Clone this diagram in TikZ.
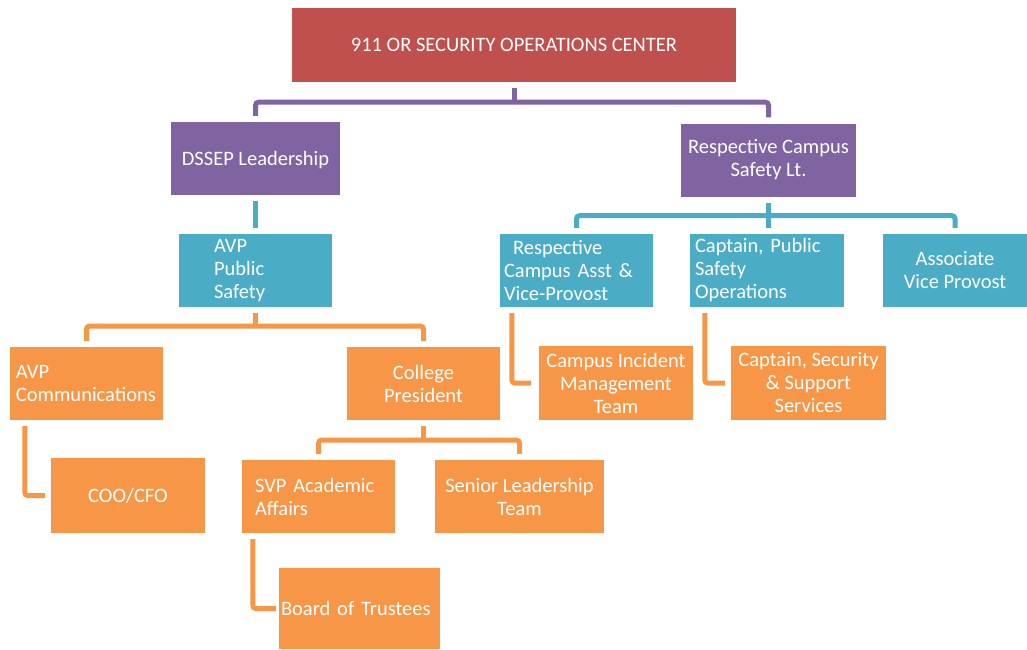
\documentclass[tikz,border=0pt]{standalone}
\usepackage{fontspec}
\setmainfont{Carlito}
\usepackage{tikz}
\usetikzlibrary{calc}
\definecolor{socred}{HTML}{C0504D}
\definecolor{leadpurple}{HTML}{8064A2}
\definecolor{safetyteal}{HTML}{4BACC6}
\definecolor{staffor}{HTML}{F79646}
\frenchspacing
\tikzset{
  box/.style={text=white, inner sep=0pt, minimum height=73pt, align=center,
    font=\fontsize{20.5}{23}\selectfont},
  redbox/.style={box, fill=socred},
  purplebox/.style={box, fill=leadpurple},
  tealbox/.style={box, fill=safetyteal},
  orangebox/.style={box, fill=staffor},
  link/.style={line width=5pt, shorten <=6pt, shorten >=6pt},
  purpleline/.style={link, draw=leadpurple},
  tealline/.style={link, draw=safetyteal},
  orangeline/.style={link, draw=staffor}
}
\begin{document}
\begin{tikzpicture}[x=1pt,y=-1pt]
\fill[white] (0,0) rectangle (1027,649);
\useasboundingbox (0,0) rectangle (1027,649);
% boxes
\node[redbox, minimum width=444pt, minimum height=74pt] (soc) at (514,45) {911 OR SECURITY OPERATIONS CENTER};
\node[purplebox, minimum width=169pt, text depth=-2pt] (dssep) at (255.5,158.5) {DSSEP Leadership};
\node[purplebox, minimum width=175pt] (campuslt) at (768.5,160) {Respective Campus\\Safety Lt.};
\node[tealbox, text width=83pt, inner xsep=35pt, align=left] (avpps) at (255.5,270.5) {AVP\\Public\\Safety};
\node[tealbox, text width=145pt, inner xsep=4pt, align=left] (asst) at (576.5,270.5) {\hspace*{9pt}Respective\\Campus Asst \&\\Vice-Provost};
\node[tealbox, text width=144pt, inner xsep=5pt, align=left] (captps) at (767,270.5) {Captain, Public\\Safety\\Operations};
\node[tealbox, minimum width=144pt] (assocvp) at (955,270.5) {Associate\\Vice Provost};
\node[orangebox, text width=141pt, inner xsep=6pt, align=left] (avpcom) at (86.5,383.5) {AVP\\Communications};
\node[orangebox, minimum width=153pt] (president) at (423.5,383.5) {College\\President};
\node[orangebox, minimum width=154pt, minimum height=74pt] (incident) at (616,383) {Campus Incident\\Management\\Team};
\node[orangebox, minimum width=155pt, minimum height=74pt] (security) at (808.5,383) {Captain, Security\\\& Support\\Services};
\node[orangebox, minimum width=154pt, minimum height=75pt] (coo) at (128,495.5) {COO/CFO};
\node[orangebox, text width=127pt, inner xsep=13pt, align=left] (svp) at (318.5,496.5) {SVP Academic\\Affairs};
\node[orangebox, minimum width=169pt] (senior) at (519.5,496.5) {Senior Leadership\\Team};
\node[orangebox, text width=157pt, inner xsep=2pt, minimum height=81pt, align=left] (trustees) at (359.5,608.5) {Board of Trustees};
% top level
\draw[purpleline, shorten >=0pt] (soc.south) -- ++(0,20) coordinate (socbar);
\draw[purpleline, rounded corners=3pt] (dssep.north) |- (socbar) -| (campuslt.north);
% safety
\draw[tealline] (dssep.south) -- (avpps.north);
\draw[tealline, shorten >=0pt] (campuslt.south) -- ++(0,19) coordinate (ltbar);
\draw[tealline, rounded corners=3pt] (asst.north) |- (ltbar) -| (assocvp.north);
\draw[tealline, shorten <=0pt] (ltbar) -- (ltbar |- captps.north);
% staff
\draw[orangeline, shorten >=0pt] (avpps.south) -- ++(0,19) coordinate (psbar);
\draw[orangeline, rounded corners=3pt] (avpcom.north) |- (psbar) -| (president.north);
\draw[orangeline, shorten >=0pt] (president.south) -- ++(0,20) coordinate (presbar);
\draw[orangeline, rounded corners=3pt] (svp.north) |- (presbar) -| (senior.north);
\draw[orangeline, rounded corners=3pt] (avpcom.south west) ++(15,0) |- (coo.west);
\draw[orangeline, rounded corners=3pt, shorten >=3pt] (svp.south west) ++(11,0) |- (trustees.west);
\draw[orangeline, rounded corners=3pt, shorten >=8pt] (asst.south west) ++(12,0) |- (incident.west);
\draw[orangeline, rounded corners=3pt] (captps.south west) ++(15,0) |- (security.west);
\end{tikzpicture}
\end{document}
